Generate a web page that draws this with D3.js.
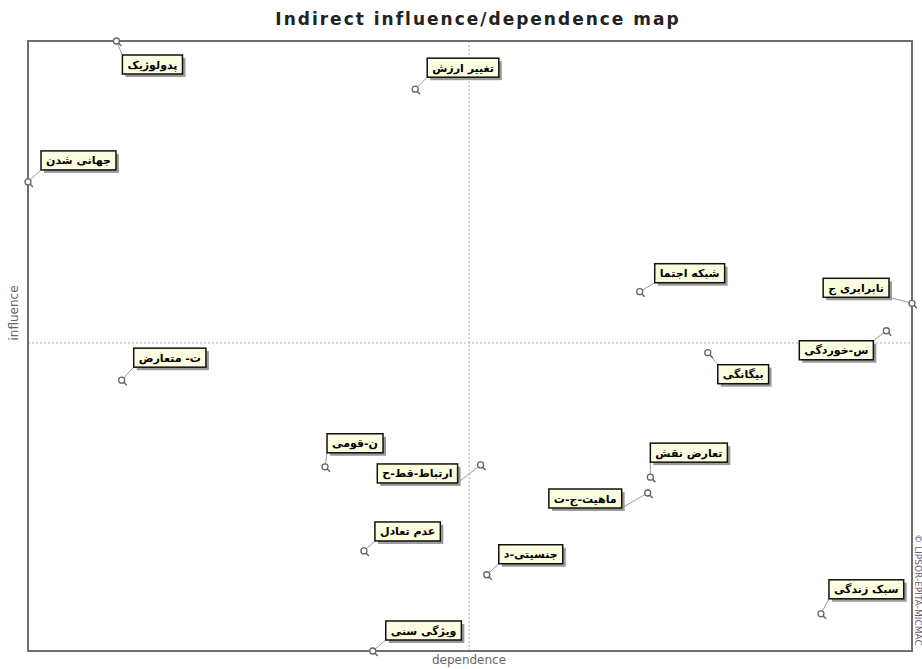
<!DOCTYPE html>
<html>
<head>
<meta charset="utf-8">
<script src="https://cdn.jsdelivr.net/npm/d3@7"></script>
<style>
  html, body { margin: 0; padding: 0; background: #fff; }
  svg { display: block; }
</style>
</head>
<body>
<svg id="fig_map"></svg>
<script>
'use strict';

// variables (persian labels) and their indirect dependence / influence
var variables = ['پدولوژیک', 'تغییر ارزش', 'جهانی شدن', 'شبکه اجتما', 'نابرابری ج',
    'س-خوردگی', 'بیگانگی', 'ت- متعارض', 'ن-قومی', 'ارتباط-قط-ح',
    'تعارض نقش', 'ماهیت-ج-ت', 'عدم تعادل', 'جنسیتی-د', 'سبک زندگی', 'ویژگی سنی'];
var dependence = [100, 438, 0, 692, 1000, 971, 769, 106, 336, 512, 704, 701, 380, 519, 897, 390];
var influence = [1000, 921, 769, 589, 570, 525, 489, 444, 302, 305, 285, 259, 164, 125, 61, 0];
// the dotted cross (mean values)
var dep_mid = 499;
var inf_mid = 505;

// label box placement around each point: [dx, dy] of the box edge (dx<0 -> box on the left)
var label_offset = [[6, 14], [12, -31], [13, -31], [15, -28], [-23, -25], [-13, 10], [10, 12],
    [12, -32], [2, -33], [-23, -1], [0, -34], [-26, -4], [11, -29], [12, -30], [8, -34], [13, -30]];

var fig_map = {
    width: 922,
    height: 669,
    left: 28,
    right: 912,
    top: 41,
    bottom: 651,
    box_h: 19,
    font_size: 11,

    draw: function() {
        var svg = d3.select('#fig_map')
            .attr('width', this.width)
            .attr('height', this.height);

        var x = d3.scaleLinear().domain([0, 1000]).range([this.left, this.right]);
        var y = d3.scaleLinear().domain([0, 1000]).range([this.bottom, this.top]);

        // title
        svg.append('text')
            .attr('x', 478)
            .attr('y', 25)
            .attr('text-anchor', 'middle')
            .attr('font-family', 'DejaVu Sans, sans-serif')
            .attr('font-weight', 'bold')
            .attr('font-size', 17)
            .attr('letter-spacing', 2)
            .attr('fill', '#222')
            .text('Indirect influence/dependence map');

        // dotted cross
        svg.append('line')
            .attr('x1', x(dep_mid)).attr('x2', x(dep_mid))
            .attr('y1', this.top).attr('y2', this.bottom)
            .attr('stroke', '#aaa').attr('stroke-dasharray', '2,2');
        svg.append('line')
            .attr('x1', this.left).attr('x2', this.right)
            .attr('y1', y(inf_mid)).attr('y2', y(inf_mid))
            .attr('stroke', '#aaa').attr('stroke-dasharray', '2,2');

        // frame
        svg.append('rect')
            .attr('x', this.left).attr('y', this.top)
            .attr('width', this.right - this.left)
            .attr('height', this.bottom - this.top)
            .attr('fill', 'none')
            .attr('stroke', '#6e6e6e')
            .attr('stroke-width', 2);

        // axis names
        svg.append('text')
            .attr('x', 469).attr('y', 664)
            .attr('text-anchor', 'middle')
            .attr('font-family', 'DejaVu Sans, sans-serif')
            .attr('font-size', 12)
            .attr('fill', '#666')
            .text('dependence');
        svg.append('text')
            .attr('transform', 'translate(18, 313) rotate(-90)')
            .attr('text-anchor', 'middle')
            .attr('font-family', 'DejaVu Sans, sans-serif')
            .attr('font-size', 12)
            .attr('fill', '#666')
            .text('influence');
        svg.append('text')
            .attr('transform', 'translate(915, 590) rotate(90)')
            .attr('text-anchor', 'middle')
            .attr('font-family', 'DejaVu Sans, sans-serif')
            .attr('font-size', 9)
            .attr('fill', '#6a5a70')
            .text('© LIPSOR-EPITA-MICMAC');

        var data = variables.map(function(v, i) {
            return {name: v, dep: dependence[i], inf: influence[i], off: label_offset[i]};
        });

        var g = svg.selectAll('g.var')
            .data(data)
            .enter()
            .append('g')
            .attr('class', 'var');

        var self = this;
        g.each(function(d) {
            var node = d3.select(this);
            var px = x(d.dep), py = y(d.inf);

            var txt = node.append('text')
                .attr('font-family', 'DejaVu Sans, sans-serif')
                .attr('font-weight', 'bold')
                .attr('font-size', self.font_size)
                .attr('direction', 'rtl')
                .attr('fill', '#000')
                .text(d.name);
            var tw = txt.node().getComputedTextLength();
            var bw = tw + 10;
            var bx = d.off[0] >= 0 ? px + d.off[0] : px + d.off[0] - bw;
            var by = py + d.off[1];

            // connector to nearest box corner
            var cx = d.off[0] >= 0 ? bx : bx + bw;
            var cy = d.off[1] < 0 ? by + self.box_h : by;
            node.insert('line', 'text')
                .attr('x1', px).attr('y1', py)
                .attr('x2', cx).attr('y2', cy)
                .attr('stroke', '#999').attr('stroke-width', 1);

            // shadow + box
            node.insert('rect', 'text')
                .attr('x', bx + 3).attr('y', by + 3)
                .attr('width', bw).attr('height', self.box_h)
                .attr('fill', '#9a9a9a');
            node.insert('rect', 'text')
                .attr('x', bx).attr('y', by)
                .attr('width', bw).attr('height', self.box_h)
                .attr('fill', '#fdfde0')
                .attr('stroke', '#111')
                .attr('stroke-width', 1.5);
            txt.attr('x', bx + bw - 5)
                .attr('y', by + self.box_h / 2 + 4);

            // point marker
            node.append('line')
                .attr('x1', px + 2).attr('y1', py + 2)
                .attr('x2', px + 5).attr('y2', py + 5)
                .attr('stroke', '#666').attr('stroke-width', 1.5);
            node.append('circle')
                .attr('cx', px).attr('cy', py)
                .attr('r', 3)
                .attr('fill', '#fff')
                .attr('stroke', '#666')
                .attr('stroke-width', 1.3);
        });
    }
};

fig_map.draw();
</script>
</body>
</html>
